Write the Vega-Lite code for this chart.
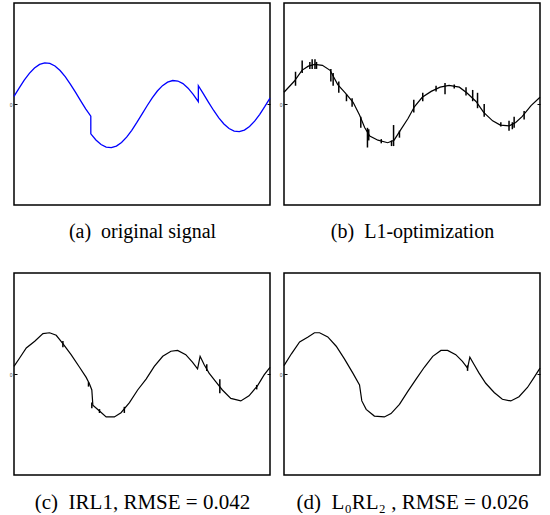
{
  "$schema": "https://vega.github.io/schema/vega-lite/v6.json",
  "padding": {"left": 8, "top": 2, "right": 0, "bottom": 0},
  "background": "white",
  "config": {
    "view": {"stroke": "#000", "strokeWidth": 1.5},
    "axis": {"grid": false, "domain": false}
  },
  "datasets": {
    "a": [
      {"t":0,"v":9},{"t":0.02,"v":18.9},{"t":0.04,"v":28.3},{"t":0.06,"v":36.4},{"t":0.08,"v":42.8},{"t":0.1,"v":47.0},
      {"t":0.12,"v":48.9},{"t":0.14,"v":48.3},{"t":0.16,"v":45.2},{"t":0.18,"v":39.8},{"t":0.2,"v":32.5},{"t":0.22,"v":23.7},
      {"t":0.24,"v":14.0},{"t":0.26,"v":4.0},{"t":0.28,"v":-5.7},{"t":0.3,"v":-14.5},{"t":0.3001,"v":-35.5},{"t":0.32,"v":-42.8},
      {"t":0.34,"v":-48.2},{"t":0.36,"v":-51.3},{"t":0.38,"v":-51.9},{"t":0.4,"v":-50.0},{"t":0.42,"v":-45.8},{"t":0.44,"v":-39.4},
      {"t":0.46,"v":-31.3},{"t":0.48,"v":-21.9},{"t":0.5,"v":-12.0},{"t":0.52,"v":-2.1},{"t":0.54,"v":7.3},{"t":0.56,"v":15.4},
      {"t":0.58,"v":21.8},{"t":0.6,"v":26.0},{"t":0.62,"v":27.9},{"t":0.64,"v":27.3},{"t":0.66,"v":24.2},{"t":0.68,"v":18.8},
      {"t":0.7,"v":11.5},{"t":0.72,"v":2.7},{"t":0.7201,"v":21.7},{"t":0.74,"v":12.0},{"t":0.76,"v":2.0},{"t":0.78,"v":-7.7},
      {"t":0.8,"v":-16.5},{"t":0.82,"v":-23.8},{"t":0.84,"v":-29.2},{"t":0.86,"v":-32.3},{"t":0.88,"v":-32.9},{"t":0.9,"v":-31.0},
      {"t":0.92,"v":-26.8},{"t":0.94,"v":-20.4},{"t":0.96,"v":-12.3},{"t":0.98,"v":-2.9},{"t":1.0,"v":7}
    ],
    "b": [
      {"t":0,"v":14},{"t":0.04,"v":27},{"t":0.07,"v":40},{"t":0.095,"v":45},{"t":0.12,"v":47},{"t":0.15,"v":46},
      {"t":0.18,"v":40},{"t":0.21,"v":23},{"t":0.24,"v":13},{"t":0.27,"v":2},{"t":0.295,"v":-13},{"t":0.315,"v":-28},
      {"t":0.335,"v":-38},{"t":0.367,"v":-43},{"t":0.405,"v":-46},{"t":0.43,"v":-43},{"t":0.455,"v":-31},{"t":0.485,"v":-17},
      {"t":0.51,"v":-3},{"t":0.54,"v":8},{"t":0.575,"v":15},{"t":0.61,"v":20},{"t":0.645,"v":22},{"t":0.685,"v":20},
      {"t":0.715,"v":13},{"t":0.75,"v":3},{"t":0.78,"v":-10},{"t":0.815,"v":-20},{"t":0.845,"v":-25},{"t":0.88,"v":-26},
      {"t":0.905,"v":-22},{"t":0.93,"v":-15},{"t":0.965,"v":-2},{"t":1.0,"v":8}
    ],
    "bs": [
      {"t":0.045,"lo":21.7,"hi":38.3},{"t":0.071,"lo":36.7,"hi":51.7},{"t":0.101,"lo":41.7,"hi":50},{"t":0.11,"lo":41.7,"hi":53.3},
      {"t":0.121,"lo":41.7,"hi":53.3},{"t":0.127,"lo":41.7,"hi":50},{"t":0.183,"lo":26.7,"hi":41.7},{"t":0.192,"lo":21.7,"hi":36.7},
      {"t":0.214,"lo":13.3,"hi":26.7},{"t":0.244,"lo":3.3,"hi":11.7},{"t":0.266,"lo":-3.3,"hi":6.7},{"t":0.3,"lo":-28.3,"hi":-15},
      {"t":0.326,"lo":-51.7,"hi":-28.3},{"t":0.331,"lo":-43.3,"hi":-30},{"t":0.38,"lo":-46.7,"hi":-41.7},{"t":0.42,"lo":-50,"hi":-43.3},
      {"t":0.428,"lo":-50,"hi":-25},{"t":0.451,"lo":-40,"hi":-31.7},{"t":0.507,"lo":-10,"hi":5},{"t":0.542,"lo":3.3,"hi":13.3},
      {"t":0.594,"lo":15,"hi":21.7},{"t":0.629,"lo":11.7,"hi":25},{"t":0.665,"lo":18.3,"hi":23.3},{"t":0.711,"lo":10,"hi":20},
      {"t":0.737,"lo":3.3,"hi":16.7},{"t":0.756,"lo":-5,"hi":13.3},{"t":0.782,"lo":-15,"hi":0},{"t":0.847,"lo":-26.7,"hi":-21.7},
      {"t":0.879,"lo":-31.7,"hi":-20},{"t":0.892,"lo":-30,"hi":-21.7},{"t":0.899,"lo":-28.3,"hi":-15},{"t":0.938,"lo":-18.3,"hi":-8.3}
    ],
    "c": [
      {"t":0,"v":9},{"t":0.022,"v":19},{"t":0.048,"v":31},{"t":0.081,"v":39},{"t":0.113,"v":48},{"t":0.139,"v":49},
      {"t":0.165,"v":46},{"t":0.191,"v":36},{"t":0.223,"v":23},{"t":0.256,"v":8},{"t":0.282,"v":-4},{"t":0.295,"v":-12},
      {"t":0.304,"v":-19},{"t":0.308,"v":-37},{"t":0.334,"v":-44},{"t":0.36,"v":-51},{"t":0.392,"v":-51},{"t":0.418,"v":-46},
      {"t":0.451,"v":-34},{"t":0.483,"v":-19},{"t":0.516,"v":-6},{"t":0.548,"v":9},{"t":0.581,"v":21},{"t":0.613,"v":27},
      {"t":0.639,"v":28},{"t":0.671,"v":23},{"t":0.697,"v":14},{"t":0.717,"v":6},{"t":0.727,"v":21},{"t":0.743,"v":11},
      {"t":0.762,"v":1},{"t":0.788,"v":-9},{"t":0.814,"v":-19},{"t":0.847,"v":-29},{"t":0.886,"v":-32},{"t":0.918,"v":-26},
      {"t":0.951,"v":-14},{"t":0.977,"v":-1},{"t":1.0,"v":8}
    ],
    "cs": [
      {"t":0.191,"lo":31.7,"hi":39.3},{"t":0.291,"lo":-15,"hi":-9.7},{"t":0.304,"lo":-40.7,"hi":-34},{"t":0.334,"lo":-46.3,"hi":-41.7},
      {"t":0.431,"lo":-46.3,"hi":-39},{"t":0.753,"lo":3.7,"hi":11.7},{"t":0.804,"lo":-23,"hi":-6.3},{"t":0.948,"lo":-18.3,"hi":-13}
    ],
    "d": [
      {"t":0,"v":10},{"t":0.029,"v":24},{"t":0.061,"v":38},{"t":0.094,"v":44},{"t":0.119,"v":49},{"t":0.139,"v":49},
      {"t":0.171,"v":44},{"t":0.204,"v":33},{"t":0.236,"v":18},{"t":0.269,"v":1},{"t":0.295,"v":-13},{"t":0.304,"v":-32},
      {"t":0.321,"v":-42},{"t":0.353,"v":-50},{"t":0.392,"v":-51},{"t":0.418,"v":-47},{"t":0.451,"v":-36},{"t":0.483,"v":-21},
      {"t":0.516,"v":-6},{"t":0.548,"v":8},{"t":0.581,"v":21},{"t":0.613,"v":28},{"t":0.639,"v":28},{"t":0.671,"v":23},
      {"t":0.697,"v":15},{"t":0.717,"v":7},{"t":0.726,"v":20},{"t":0.743,"v":11},{"t":0.762,"v":1},{"t":0.788,"v":-11},
      {"t":0.821,"v":-22},{"t":0.853,"v":-30},{"t":0.886,"v":-32},{"t":0.918,"v":-27},{"t":0.951,"v":-16},{"t":0.977,"v":-4},
      {"t":1.0,"v":7}
    ],
    "ds": [
      {"t":0.717,"lo":3.7,"hi":10.3}
    ]
  },
  "columns": 2,
  "spacing": {"column": 4, "row": 30},
  "concat": [
    {
      "width": 256, "height": 202,
      "layer": [
        {"data": {"name": "a"},
         "mark": {"type": "line", "color": "#0000ff", "strokeWidth": 1.3},
         "encoding": {
           "x": {"field": "t", "type": "quantitative", "scale": {"domain": [0, 1]},
                 "axis": {"domain": false, "ticks": false, "labels": false, "grid": false, "title": "(a)\u00a0 original signal",
                          "titleFont": "Liberation Serif", "titleFontSize": 20, "titleFontWeight": "normal", "titleColor": "#000", "titlePadding": 16}},
           "y": {"field": "v", "type": "quantitative", "scale": {"domain": [-101, 101]},
                 "axis": {"values": [0], "tickSize": -3, "tickColor": "#000", "labelPadding": 5, "labelFontSize": 5, "labelColor": "#444", "title": null}}
         }},
        {"data": {"values": [{}]},
         "mark": {"type": "rule", "strokeOpacity": 0},
         "encoding": {"y": {"datum": 0, "type": "quantitative",
                 "axis": {"orient": "right", "values": [0], "tickSize": -3, "tickColor": "#000", "labels": false, "title": null}}}}
      ],
      "resolve": {"axis": {"y": "independent"}}
    },
    {
      "width": 256, "height": 202,
      "layer": [
        {"data": {"name": "b"},
         "mark": {"type": "line", "color": "#000", "strokeWidth": 1.2},
         "encoding": {
           "x": {"field": "t", "type": "quantitative", "scale": {"domain": [0, 1]},
                 "axis": {"domain": false, "ticks": false, "labels": false, "grid": false, "title": "(b)\u00a0 L1-optimization",
                          "titleFont": "Liberation Serif", "titleFontSize": 20, "titleFontWeight": "normal", "titleColor": "#000", "titlePadding": 16}},
           "y": {"field": "v", "type": "quantitative", "scale": {"domain": [-101, 101]},
                 "axis": {"values": [0], "tickSize": -3, "tickColor": "#000", "labelPadding": 5, "labelFontSize": 5, "labelColor": "#444", "title": null}}
         }},
        {"data": {"name": "bs"},
         "mark": {"type": "rule", "color": "#000", "strokeWidth": 1.5},
         "encoding": {"x": {"field": "t", "type": "quantitative"}, "y": {"field": "lo", "type": "quantitative", "axis": null}, "y2": {"field": "hi"}}},
        {"data": {"values": [{}]},
         "mark": {"type": "rule", "strokeOpacity": 0},
         "encoding": {"y": {"datum": 0, "type": "quantitative",
                 "axis": {"orient": "right", "values": [0], "tickSize": -3, "tickColor": "#000", "labels": false, "title": null}}}}
      ],
      "resolve": {"axis": {"y": "independent"}}
    },
    {
      "width": 256, "height": 202,
      "layer": [
        {"data": {"name": "c"},
         "mark": {"type": "line", "color": "#000", "strokeWidth": 1.2},
         "encoding": {
           "x": {"field": "t", "type": "quantitative", "scale": {"domain": [0, 1]},
                 "axis": {"domain": false, "ticks": false, "labels": false, "grid": false, "title": "(c)\u00a0 IRL1, RMSE = 0.042",
                          "titleFont": "Liberation Serif", "titleFontSize": 21, "titleFontWeight": "normal", "titleColor": "#000", "titlePadding": 16}},
           "y": {"field": "v", "type": "quantitative", "scale": {"domain": [-101, 101]},
                 "axis": {"values": [0], "tickSize": -3, "tickColor": "#000", "labelPadding": 5, "labelFontSize": 5, "labelColor": "#444", "title": null}}
         }},
        {"data": {"name": "cs"},
         "mark": {"type": "rule", "color": "#000", "strokeWidth": 1.5},
         "encoding": {"x": {"field": "t", "type": "quantitative"}, "y": {"field": "lo", "type": "quantitative", "axis": null}, "y2": {"field": "hi"}}},
        {"data": {"values": [{}]},
         "mark": {"type": "rule", "strokeOpacity": 0},
         "encoding": {"y": {"datum": 0, "type": "quantitative",
                 "axis": {"orient": "right", "values": [0], "tickSize": -3, "tickColor": "#000", "labels": false, "title": null}}}}
      ],
      "resolve": {"axis": {"y": "independent"}}
    },
    {
      "width": 256, "height": 202,
      "layer": [
        {"data": {"name": "d"},
         "mark": {"type": "line", "color": "#000", "strokeWidth": 1.2},
         "encoding": {
           "x": {"field": "t", "type": "quantitative", "scale": {"domain": [0, 1]},
                 "axis": {"domain": false, "ticks": false, "labels": false, "grid": false, "title": "(d)\u00a0 L\u2080RL\u2082 , RMSE = 0.026",
                          "titleFont": "Liberation Serif", "titleFontSize": 21, "titleFontWeight": "normal", "titleColor": "#000", "titlePadding": 16}},
           "y": {"field": "v", "type": "quantitative", "scale": {"domain": [-101, 101]},
                 "axis": {"values": [0], "tickSize": -3, "tickColor": "#000", "labelPadding": 5, "labelFontSize": 5, "labelColor": "#444", "title": null}}
         }},
        {"data": {"name": "ds"},
         "mark": {"type": "rule", "color": "#000", "strokeWidth": 1.5},
         "encoding": {"x": {"field": "t", "type": "quantitative"}, "y": {"field": "lo", "type": "quantitative", "axis": null}, "y2": {"field": "hi"}}},
        {"data": {"values": [{}]},
         "mark": {"type": "rule", "strokeOpacity": 0},
         "encoding": {"y": {"datum": 0, "type": "quantitative",
                 "axis": {"orient": "right", "values": [0], "tickSize": -3, "tickColor": "#000", "labels": false, "title": null}}}}
      ],
      "resolve": {"axis": {"y": "independent"}}
    }
  ]
}
